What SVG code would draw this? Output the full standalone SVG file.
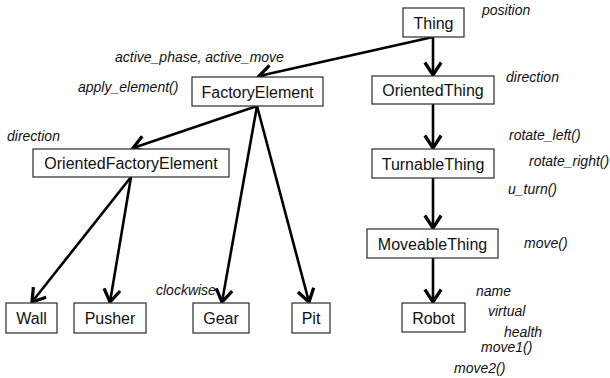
<svg xmlns="http://www.w3.org/2000/svg" width="610" height="378" viewBox="0 0 610 378">
<defs>
<style>
.box{fill:#fff;stroke:#3a3a3a;stroke-width:1.3}
.nt{font-family:"Liberation Sans",Arial,sans-serif;font-size:16px;fill:#111;text-anchor:middle}
.lb{font-family:"Liberation Sans",Arial,sans-serif;font-size:14px;font-style:italic;fill:#111}
.ed{stroke:#000;stroke-width:2.6;fill:none;marker-end:url(#ah)}
</style>
<marker id="ah" markerUnits="userSpaceOnUse" markerWidth="20" markerHeight="20" viewBox="-12 -8 14 16" refX="0" refY="0" orient="auto">
<path d="M-10,-6.5 L0,0 L-10,6.5" fill="none" stroke="#000" stroke-width="2.6" stroke-linejoin="miter"/>
</marker>
</defs>
<rect width="610" height="378" fill="#fff"/>
<g id="connectors">
<line class="ed" x1="433" y1="37" x2="259" y2="76"/>
<line class="ed" x1="433" y1="37" x2="433" y2="75"/>
<line class="ed" x1="433" y1="104" x2="433" y2="148"/>
<line class="ed" x1="433" y1="178" x2="433" y2="228"/>
<line class="ed" x1="433" y1="258" x2="433" y2="302"/>
<line class="ed" x1="257" y1="106" x2="133" y2="148"/>
<line class="ed" x1="257" y1="106" x2="222" y2="302"/>
<line class="ed" x1="257" y1="106" x2="309" y2="302"/>
<line class="ed" x1="131" y1="177" x2="32" y2="302"/>
<line class="ed" x1="131" y1="177" x2="110" y2="302"/>
</g>
<g id="Thing"><rect class="box" x="403" y="8" width="61" height="29"/><text class="nt" x="433.5" y="28.5">Thing</text></g>
<g id="OrientedThing"><rect class="box" x="372" y="76" width="122" height="28"/><text class="nt" x="433" y="96">OrientedThing</text></g>
<g id="TurnableThing"><rect class="box" x="372" y="149" width="122" height="29"/><text class="nt" x="433" y="169.5">TurnableThing</text></g>
<g id="MoveableThing"><rect class="box" x="367" y="229" width="131" height="29"/><text class="nt" x="432.5" y="249.5">MoveableThing</text></g>
<g id="Robot"><rect class="box" x="402" y="303" width="63" height="29"/><text class="nt" x="433.5" y="323.5">Robot</text></g>
<g id="FactoryElement"><rect class="box" x="192" y="77" width="131" height="29"/><text class="nt" x="257.5" y="97.5">FactoryElement</text></g>
<g id="OrientedFactoryElement"><rect class="box" x="33" y="149" width="196" height="28"/><text class="nt" x="131" y="169">OrientedFactoryElement</text></g>
<g id="Wall"><rect class="box" x="6" y="303" width="51" height="30"/><text class="nt" x="31.5" y="324">Wall</text></g>
<g id="Pusher"><rect class="box" x="74" y="303" width="72" height="30"/><text class="nt" x="110" y="324">Pusher</text></g>
<g id="Gear"><rect class="box" x="193" y="303" width="56" height="30"/><text class="nt" x="221" y="324">Gear</text></g>
<g id="Pit"><rect class="box" x="292" y="303" width="38" height="30"/><text class="nt" x="311" y="324">Pit</text></g>
<g id="labels">
<text class="lb" x="482" y="15">position</text>
<text class="lb" x="506" y="82">direction</text>
<text class="lb" x="509" y="140">rotate_left()</text>
<text class="lb" x="529" y="166">rotate_right()</text>
<text class="lb" x="508" y="194">u_turn()</text>
<text class="lb" x="524" y="248">move()</text>
<text class="lb" x="476" y="296">name</text>
<text class="lb" x="488" y="316">virtual</text>
<text class="lb" x="504" y="337">health</text>
<text class="lb" x="481" y="352">move1()</text>
<text class="lb" x="454" y="373">move2()</text>
<text class="lb" x="115" y="62">active_phase, active_move</text>
<text class="lb" x="78" y="92">apply_element()</text>
<text class="lb" x="7" y="141">direction</text>
<text class="lb" x="156" y="295">clockwise</text>
</g>
</svg>
